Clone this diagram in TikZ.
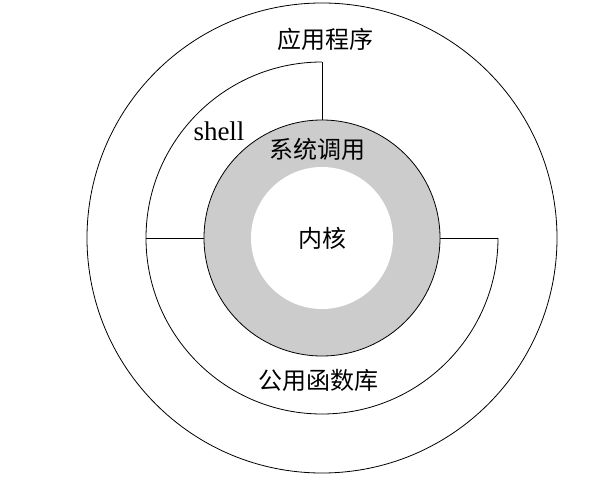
\documentclass[tikz,border=0pt]{standalone}
\usepackage{fontspec}
\setmainfont{Liberation Serif}
\newfontfamily\cjk{Noto Sans CJK SC}
\tikzset{
  ring/.style={circle, inner sep=0pt, outer sep=0pt},
  cjklabel/.style={font=\cjk\fontsize{24}{28}\selectfont, inner sep=0pt},
}
\begin{document}
\begin{tikzpicture}[x=1pt,y=1pt,line width=0.8pt]
  \useasboundingbox (-322,-238) rectangle (282,238);
  % applications
  \draw (0,0) circle[radius=235];
  % shell and library ring
  \coordinate (shelltop) at (0,176);
  \coordinate (shellleft) at (-176,0);
  \coordinate (libright) at (176,0);
  \draw (shelltop) arc[start angle=90,end angle=360,radius=176];
  % system calls and kernel
  \node[ring, draw, fill=black!20, minimum size=236pt] (syscall) at (0,0) {};
  \node[ring, fill=white, minimum size=142pt, cjklabel] (kernel) at (0,0) {内核};
  \draw (syscall.north) -- (shelltop);
  \draw (syscall.west) -- (shellleft);
  \draw (syscall.east) -- (libright);
  % labels
  \node[cjklabel] (app) at (3,199) {应用程序};
  \node[cjklabel] (calls) at (-5,89) {系统调用};
  \node[cjklabel] (lib) at (-4,-142) {公用函数库};
  \node[font=\fontsize{27}{30}\selectfont, inner sep=0pt, anchor=base] (shell) at (-103,97) {shell};
\end{tikzpicture}
\end{document}
